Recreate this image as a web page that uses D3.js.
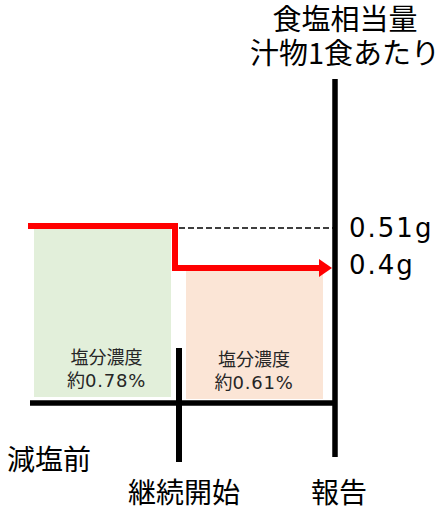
<!DOCTYPE html>
<html>
<head>
<meta charset="utf-8">
<script src="https://cdn.jsdelivr.net/npm/d3@7"></script>
<style>
	body { margin: 0; background: #fff; }
	svg { display: block; }
	text { font-family: "Noto Sans CJK JP", "Noto Sans", sans-serif; }
	.num { font-family: "DejaVu Sans", sans-serif; }
</style>
</head>
<body>
<div id="chart"></div>
<script>
// Data
var periods = ['減塩前', '継続開始', '報告'];
var saltValues = [0.51, 0.4];
var saltLabels = ['0.51g', '0.4g'];
var concentrationTitle = '塩分濃度';
var concentrationPrefix = '約';
var concentrationLabels = ['0.78%', '0.61%'];
var titleLines = ['食塩相当量', '汁物1食あたり'];
var barColors = ['#e2efda', '#fbe5d6'];

var width = 440;
var height = 511;

var svg = d3.select('#chart').append('svg')
	.attr('width', width)
	.attr('height', height);

// time marks on x, salt amount on y (schematic scale)
var x = d3.scaleLinear().domain([0, 1, 2]).range([30, 179, 335]);
var y = d3.scaleLinear().domain([0.4, 0.51]).range([268, 226]);
var baseY = 403;

// bars for each period
svg.selectAll('rect.bar')
	.data(saltValues)
	.enter().append('rect')
	.attr('class', 'bar')
	.attr('x', function (d, i) { return x(i) + (i === 0 ? 4 : 7); })
	.attr('y', function (d) { return y(d) + 3; })
	.attr('width', function (d, i) { return x(i + 1) - x(i) - (i === 0 ? 12 : 19); })
	.attr('height', function (d, i) { return baseY - y(d) - (i === 0 ? 9 : 7); })
	.attr('fill', function (d, i) { return barColors[i]; });

// inner labels
saltValues.forEach(function (d, i) {
	var cx = (x(i) + x(i + 1)) / 2 + (i === 0 ? 2 : -3);
	var off = i === 0 ? 0 : 2;
	svg.append('text')
		.attr('x', cx)
		.attr('y', 364 + off)
		.attr('text-anchor', 'middle')
		.attr('font-size', 18)
		.attr('fill', '#262626')
		.text(concentrationTitle);
	var t = svg.append('text')
		.attr('x', cx)
		.attr('y', 387 + off)
		.attr('text-anchor', 'middle')
		.attr('font-size', 18)
		.attr('fill', '#262626');
	t.append('tspan').text(concentrationPrefix);
	t.append('tspan')
		.attr('class', 'num')
		.attr('letter-spacing', 0.8)
		.text(concentrationLabels[i]);
});

// dashed reference at first value
svg.append('line')
	.attr('x1', x(1))
	.attr('x2', x(2))
	.attr('y1', y(saltValues[0]) + 2)
	.attr('y2', y(saltValues[0]) + 2)
	.attr('stroke', '#000')
	.attr('stroke-width', 1.5)
	.attr('stroke-dasharray', '6,3');

// red step line with arrow
var stepX = x(1) - 4;
var line = d3.line();
svg.append('path')
	.attr('d', line([
		[x(0) - 2, y(saltValues[0])],
		[stepX, y(saltValues[0])],
		[stepX, y(saltValues[1])],
		[x(2) - 15, y(saltValues[1])]
	]))
	.attr('fill', 'none')
	.attr('stroke', '#ff0000')
	.attr('stroke-width', 6);

svg.append('path')
	.attr('d', line([
		[x(2) - 16, y(saltValues[1]) - 9],
		[x(2) - 3, y(saltValues[1])],
		[x(2) - 16, y(saltValues[1]) + 9]
	]) + 'Z')
	.attr('fill', '#ff0000');

// axes
svg.append('line')
	.attr('x1', x(0)).attr('x2', x(2))
	.attr('y1', baseY).attr('y2', baseY)
	.attr('stroke', '#000').attr('stroke-width', 5.5);

svg.append('line')
	.attr('x1', x(1)).attr('x2', x(1))
	.attr('y1', 348).attr('y2', 462)
	.attr('stroke', '#000').attr('stroke-width', 6);

svg.append('line')
	.attr('x1', x(2)).attr('x2', x(2))
	.attr('y1', 79).attr('y2', 457)
	.attr('stroke', '#000').attr('stroke-width', 5.5);

// value labels
saltLabels.forEach(function (t, i) {
	svg.append('text')
		.attr('class', 'num')
		.attr('x', 349)
		.attr('y', y(saltValues[i]) + (i === 0 ? 11 : 6))
		.attr('font-size', 26)
		.attr('letter-spacing', 2)
		.attr('fill', '#000')
		.text(t);
});

// title
svg.selectAll('text.title')
	.data(titleLines)
	.enter().append('text')
	.attr('class', 'title')
	.attr('x', 345)
	.attr('y', function (d, i) { return 30 + i * 34; })
	.attr('text-anchor', 'middle')
	.attr('font-size', 29)
	.attr('fill', '#000')
	.text(function (d) { return d; });

// period labels
var periodPos = [
	{x: 7, y: 470, anchor: 'start'},
	{x: 184, y: 503, anchor: 'middle'},
	{x: 339, y: 503, anchor: 'middle'}
];
svg.selectAll('text.period')
	.data(periods)
	.enter().append('text')
	.attr('class', 'period')
	.attr('x', function (d, i) { return periodPos[i].x; })
	.attr('y', function (d, i) { return periodPos[i].y; })
	.attr('text-anchor', function (d, i) { return periodPos[i].anchor; })
	.attr('font-size', 28)
	.attr('fill', '#000')
	.text(function (d) { return d; });
</script>
</body>
</html>
